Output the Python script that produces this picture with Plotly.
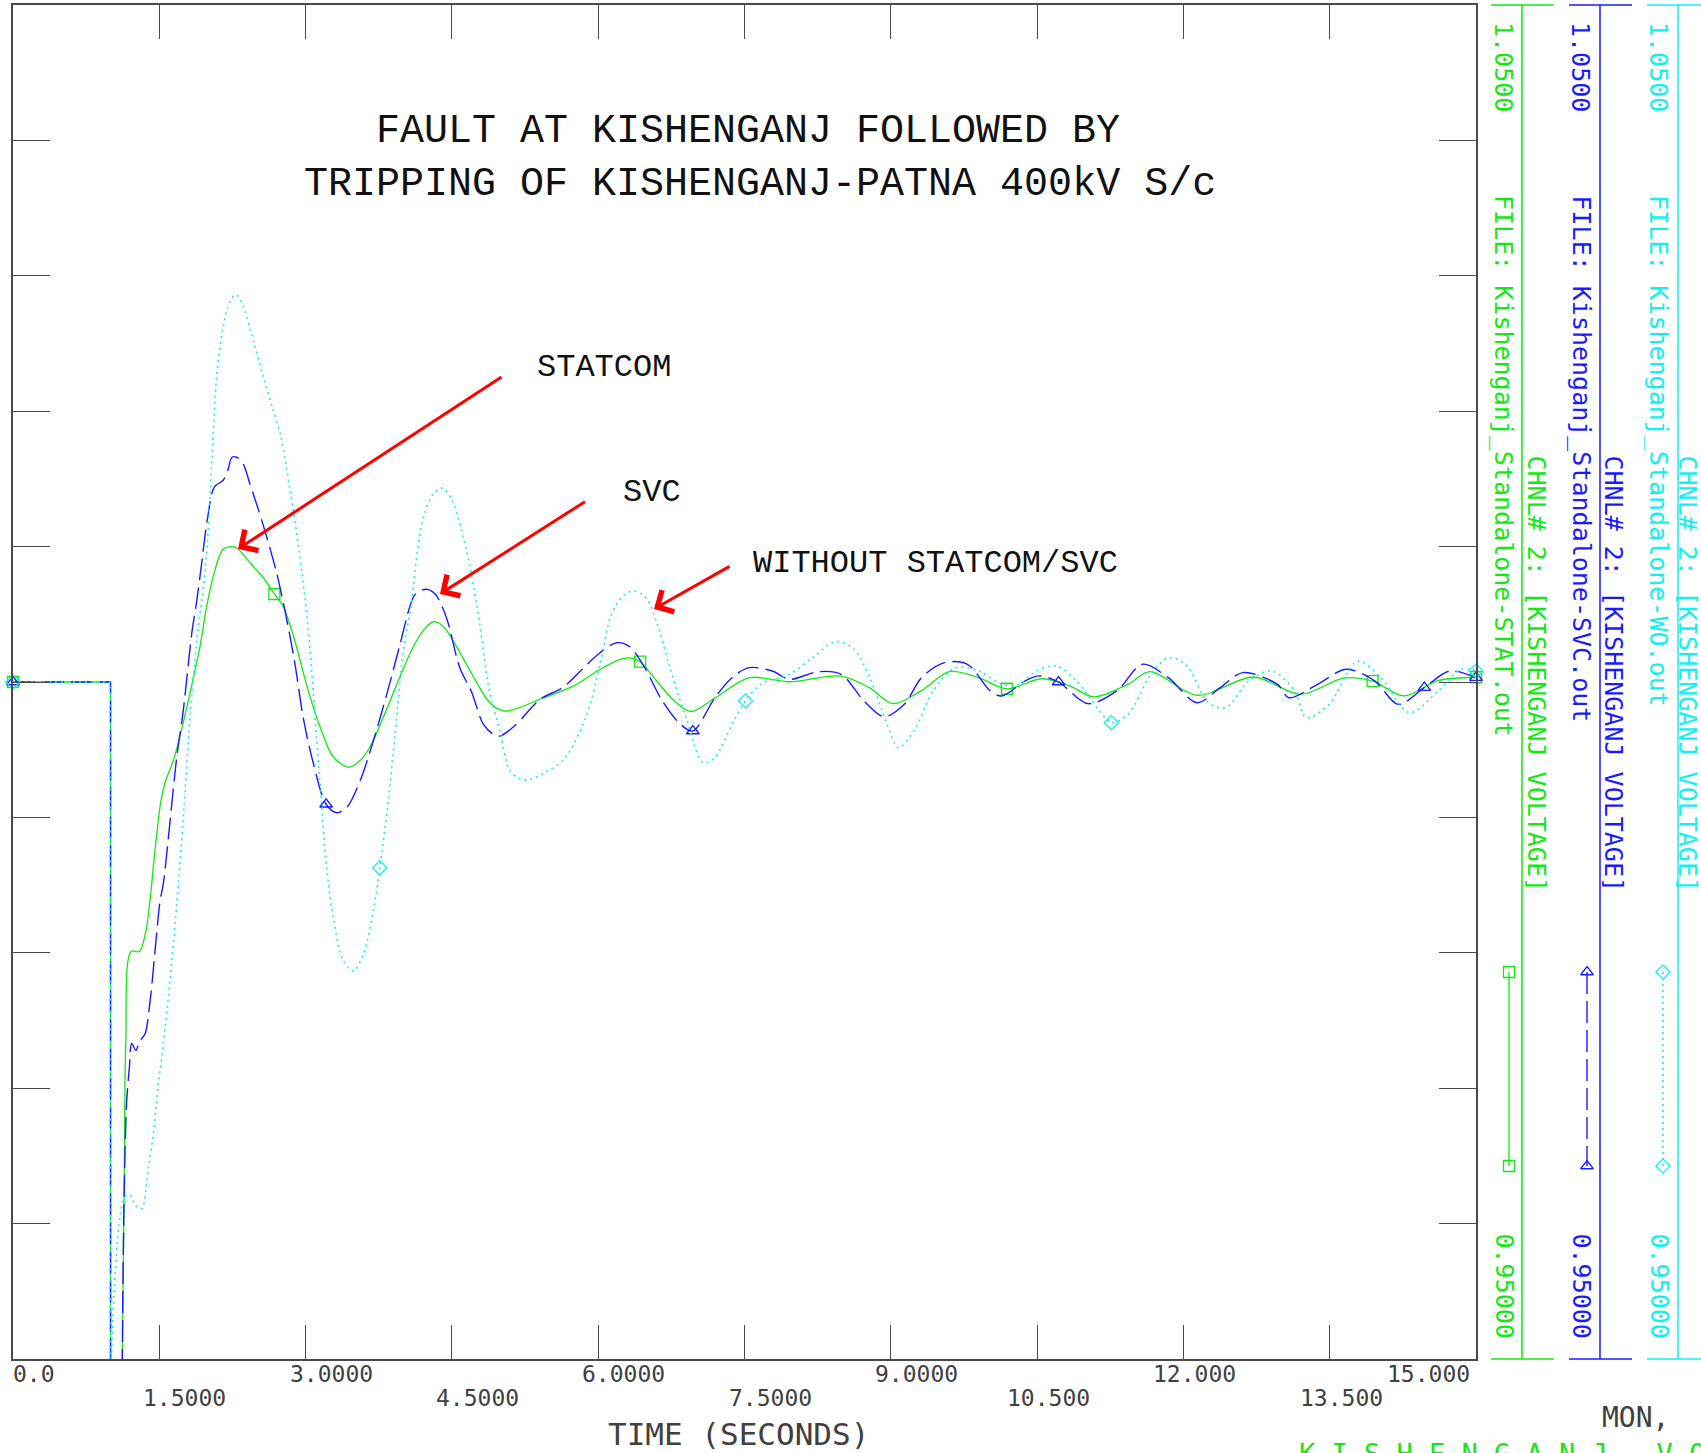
import plotly.graph_objects as go

# ---------------- Kishenganj 400 kV bus voltage (pu) after the fault ----------------
# pre-fault and fault-on portion, identical for the three cases
t_fault = [0.0, 1.0, 1.0]
v_fault = [1.0, 1.0, 0.60]

# recovery after fault clearing -- with STATCOM
t_stat = [1.12, 1.121, 1.141, 1.156, 1.21, 1.295, 1.36, 1.405, 1.456, 1.514, 1.56, 1.644,
          1.712, 1.815, 1.917, 1.986, 2.064, 2.153, 2.225, 2.293, 2.43, 2.567, 2.68, 2.77,
          2.887, 3.025, 3.148, 3.281, 3.438, 3.558, 3.66, 3.797, 3.968, 4.104, 4.207, 4.31,
          4.412, 4.549, 4.72, 4.891, 5.04, 5.43, 5.76, 6.02, 6.25, 6.33, 6.43, 6.60, 6.78,
          6.95, 7.20, 7.55, 7.96, 8.49, 8.78, 9.02, 9.31, 9.60, 9.90, 10.19, 10.55, 10.84,
          11.08, 11.43, 11.66, 12.14, 12.72, 13.20, 13.65, 13.94, 14.26, 14.61, 15.0]
v_stat = [0.60, 0.9495, 0.9634, 0.9732, 0.9801, 0.9801, 0.9815, 0.9839, 0.9876, 0.9911,
          0.9926, 0.9942, 0.9960, 0.9992, 1.0026, 1.0056, 1.0081, 1.0098, 1.0100, 1.0099,
          1.0088, 1.0077, 1.0065, 1.0056, 1.0031, 0.9994, 0.9967, 0.9945, 0.9937, 0.9942,
          0.9952, 0.9974, 1.0004, 1.0026, 1.0038, 1.00445, 1.0041, 1.0026, 1.0004, 0.99845,
          0.99785, 0.9988, 0.99975, 1.00094, 1.00172, 1.00178, 1.0015, 1.00007, 0.9986,
          0.99782, 0.99884, 1.00032, 1.00002, 1.00044, 0.99958, 0.9984, 0.99934, 1.00076,
          1.00032, 0.9995, 1.00024, 0.9997, 0.9989, 0.99983, 1.00076, 0.99902, 1.00037,
          0.99909, 1.0003, 1.00007, 0.99897, 1.0001, 1.00035]

# with SVC
t_svc = [1.12, 1.121, 1.149, 1.166, 1.193, 1.217, 1.26, 1.30, 1.353, 1.405, 1.456, 1.507,
         1.541, 1.61, 1.678, 1.746, 1.833, 1.884, 1.928, 1.995, 2.064, 2.155, 2.201, 2.245,
         2.293, 2.361, 2.43, 2.522, 2.614, 2.705, 2.796, 2.887, 2.98, 3.079, 3.21, 3.319,
         3.421, 3.558, 3.694, 3.832, 3.968, 4.07, 4.124, 4.238, 4.33, 4.444, 4.581, 4.70,
         4.822, 4.925, 4.993, 5.15, 5.403, 5.634, 5.818, 6.00, 6.19, 6.32, 6.47, 6.65, 6.843,
         6.97, 7.196, 7.372, 7.549, 7.784, 7.961, 8.255, 8.491, 8.725, 8.933, 9.138, 9.315,
         9.55, 9.785, 10.021, 10.138, 10.374, 10.52, 10.72, 11.022, 11.316, 11.581, 11.845,
         12.14, 12.376, 12.611, 12.964, 13.082, 13.376, 13.67, 13.965, 14.20, 14.47, 14.729,
         15.0]
v_svc = [0.60, 0.9504, 0.9654, 0.9691, 0.9715, 0.9733, 0.9728, 0.9735, 0.9740, 0.9764,
         0.9801, 0.9838, 0.9851, 0.9897, 0.9944, 0.9979, 1.0036, 1.0060, 1.0084, 1.0121,
         1.0144, 1.0149, 1.0156, 1.0166, 1.0166, 1.0161, 1.0146, 1.0126, 1.0104, 1.0080,
         1.0050, 1.0015, 0.9972, 0.9940, 0.99097, 0.99035, 0.99072, 0.99269, 0.99564,
         0.99909, 1.00278, 1.0056, 1.00648, 1.00685, 1.00648, 1.00475, 1.00106, 0.9993,
         0.99688, 0.99614, 0.99601, 0.9968, 0.99872, 0.99958, 1.00081, 1.00205, 1.0029,
         1.00262, 1.00115, 0.9987, 0.99688, 0.99638, 0.99884, 1.00032, 1.00106, 1.00081,
         1.0002, 1.00076, 1.00057, 0.9986, 0.99744, 0.99835, 1.00032, 1.00143, 1.00131,
         0.99934, 0.99897, 1.00007, 1.00045, 1.0000, 0.9984, 0.99934, 1.00131, 1.00032,
         0.99847, 0.99958, 1.00069, 0.99983, 0.99884, 0.99983, 1.00094, 1.00007, 0.99835,
         0.99958, 1.00081, 1.00032]

# without STATCOM / SVC
t_wo = [1.14, 1.141, 1.20, 1.26, 1.32, 1.387, 1.439, 1.49, 1.541, 1.61, 1.678, 1.746, 1.815,
        1.884, 1.973, 2.041, 2.087, 2.155, 2.224, 2.284, 2.362, 2.476, 2.567, 2.659, 2.75,
        2.842, 2.933, 3.025, 3.148, 3.216, 3.284, 3.387, 3.49, 3.592, 3.694, 3.76, 3.848,
        3.917, 4.002, 4.078, 4.192, 4.306, 4.399, 4.49, 4.627, 4.765, 4.88, 4.993, 5.10,
        5.26, 5.45, 5.65, 5.875, 6.02, 6.136, 6.254, 6.371, 6.489, 6.607, 6.725, 6.90, 7.078,
        7.196, 7.372, 7.51, 7.666, 7.961, 8.197, 8.432, 8.608, 8.785, 8.961, 9.079, 9.255,
        9.433, 9.668, 9.904, 10.138, 10.314, 10.492, 10.698, 10.904, 11.139, 11.26, 11.432,
        11.668, 11.845, 12.022, 12.258, 12.434, 12.67, 12.905, 13.141, 13.258, 13.493,
        13.789, 14.024, 14.318, 14.611, 14.847, 15.0]
v_wo = [0.60, 0.9619, 0.9621, 0.9613, 0.9611, 0.9641, 0.9666, 0.9703, 0.9733, 0.9780, 0.9835,
        0.9900, 0.9974, 1.0030, 1.0084, 1.0166, 1.0225, 1.0262, 1.0281, 1.0286, 1.0277,
        1.0249, 1.0225, 1.0203, 1.0180, 1.0141, 1.0097, 1.0040, 0.99245, 0.98628, 0.98259,
        0.97939, 0.97865, 0.97989, 0.98308, 0.98628, 0.99121, 0.99614, 1.00229, 1.0055,
        1.01165, 1.01386, 1.01431, 1.01361, 1.01041, 1.00524, 0.9995, 0.99638, 0.9934,
        0.99275, 0.9933, 0.9943, 0.99743, 1.0013, 1.0050, 1.00635, 1.00672, 1.00623, 1.00426,
        1.00131, 0.99736, 0.99404, 0.99441, 0.99688, 0.9986, 0.99983, 1.00057, 1.00179,
        1.00298, 1.00253, 1.00032, 0.99688, 0.99515, 0.99662, 0.99934, 1.00106, 1.00081,
        0.99983, 0.99983, 1.00081, 1.00118, 1.00007, 0.99786, 0.99699, 0.99761, 1.00057,
        1.00179, 1.00131, 0.99847, 0.9981, 1.00007, 1.00081, 0.99934, 0.99736, 0.99835,
        1.00155, 1.00032, 0.99773, 0.99934, 1.00094, 1.00081]

# plot-symbol positions along each curve (time, s)
mark_t_stat = [0.0, 2.68, 6.43, 10.19, 13.94, 15.0]
mark_t_svc = [0.0, 3.21, 6.97, 10.72, 14.47, 15.0]
mark_t_wo = [0.0, 3.76, 7.51, 11.26, 15.0]

# axis ticks
x_ticks = [0.0, 1.5, 3.0, 4.5, 6.0, 7.5, 9.0, 10.5, 12.0, 13.5, 15.0]
x_tick_text = ["0.0", "1.5000", "3.0000", "4.5000", "6.0000", "7.5000",
               "9.0000", "10.500", "12.000", "13.500", "15.000"]
y_ticks = [0.96, 0.97, 0.98, 0.99, 1.00, 1.01, 1.02, 1.03, 1.04]
y_top, y_bottom = 1.05, 0.95

files = ["FILE: Kishenganj_Standalone-STAT.out",
         "FILE: Kishenganj_Standalone-SVC.out",
         "FILE: Kishenganj_Standalone-WO.out"]
channel = "CHNL# 2: [KISHENGANJ VOLTAGE]"

# ---------------- page geometry ----------------
W, H = 1701, 1453
FX0, FX1, FY0, FY1 = 13, 1476, 5, 1359       # plot frame in page pixels


def px(x):
    return x / W


def py(y):
    return 1 - y / H


GREEN = "#12e812"
BLUE = "#1a1aff"
CYAN = "#10f0f0"
INK = "#404040"
STROKE = "DejaVu Sans Mono"
SERIF = "Liberation Mono"

fig = go.Figure()


def values_at(mt, t, v):
    tt = t_fault + t
    vv = v_fault + v
    return [vv[tt.index(m)] for m in mt]


cases = [
    (t_stat, v_stat, mark_t_stat, GREEN, "solid", 1.3, "square-open"),
    (t_svc, v_svc, mark_t_svc, BLUE, "22px,7px", 1.4, "triangle-up-open"),
    (t_wo, v_wo, mark_t_wo, CYAN, "2px,4px", 1.6, "diamond-open"),
]

for t, v, mt, col, dash, lw, sym in cases:
    fig.add_trace(go.Scatter(x=t_fault, y=v_fault, mode="lines",
                             line=dict(color=col, width=lw, dash=dash), hoverinfo="skip"))
    fig.add_trace(go.Scatter(x=t, y=v, mode="lines",
                             line=dict(color=col, width=lw, dash=dash, shape="spline", smoothing=0.9),
                             hoverinfo="skip"))
    fig.add_trace(go.Scatter(x=mt, y=values_at(mt, t, v), mode="markers",
                             marker=dict(symbol=sym, size=11, color=col, line=dict(width=1.3, color=col)),
                             hoverinfo="skip", cliponaxis=False))

# legend keys at the right-hand channel strips (page-pixel overlay axes)
key_x = [1509, 1587, 1663]
key_y = [972, 1166]
for (t, v, mt, col, dash, lw, sym), kx in zip(cases, key_x):
    fig.add_trace(go.Scatter(x=[kx, kx], y=key_y, mode="lines+markers", xaxis="x2", yaxis="y2",
                             line=dict(color=col, width=lw, dash=dash),
                             marker=dict(symbol=sym, size=11, color=col, line=dict(width=1.3, color=col)),
                             hoverinfo="skip"))

axis_common = dict(showgrid=False, zeroline=False, showline=True, mirror="ticks",
                   linecolor="#4a4a4a", linewidth=1.5, ticks="inside", tickcolor="#4a4a4a",
                   tickwidth=1.2, showticklabels=False, fixedrange=True)

fig.update_layout(
    width=W, height=H, autosize=False,
    margin=dict(l=0, r=0, t=0, b=0),
    paper_bgcolor="white", plot_bgcolor="rgba(0,0,0,0)",
    showlegend=False,
    xaxis=dict(domain=[px(FX0), px(FX1)], range=[x_ticks[0], x_ticks[-1]],
               tickvals=x_ticks[1:-1], ticklen=34, **axis_common),
    yaxis=dict(domain=[py(FY1), py(FY0)], range=[y_bottom, y_top],
               tickvals=y_ticks, ticklen=37, **axis_common),
    xaxis2=dict(domain=[0, 1], range=[0, W], visible=False, anchor="y2", fixedrange=True),
    yaxis2=dict(domain=[0, 1], range=[H, 0], visible=False, anchor="x2", fixedrange=True),
)


def text(x, y, s, size, color=INK, family=STROKE, angle=0, xa="center", ya="middle"):
    fig.add_annotation(x=px(x), y=py(y), xref="paper", yref="paper", text=s, showarrow=False,
                       font=dict(family=family, size=size, color=color), textangle=angle,
                       xanchor=xa, yanchor=ya)


# x tick labels, staggered in two rows, decimal point under the tick
row_y = [1374, 1398]
shift = {"0.0": -2, "15.000": -91}
for i, (val, lab) in enumerate(zip(x_ticks, x_tick_text)):
    sh = shift.get(lab, -18 if len(lab.split(".")[0]) == 1 else -32)
    fig.add_annotation(x=val, y=py(row_y[i % 2]), xref="x", yref="paper", text=lab,
                       showarrow=False, xanchor="left", yanchor="middle", xshift=sh,
                       font=dict(family=STROKE, size=23, color=INK))

text(738, 1434, "TIME (SECONDS)", 31)
text(1600, 1417, "MON,", 28, xa="left")
text(1297, 1453, "K I S H E N G A N J   V O L T A G E", 27, color=GREEN, xa="left")

# title
text(748, 131, "FAULT AT KISHENGANJ FOLLOWED BY", 40, color="#111", family=SERIF)
text(760, 184, "TRIPPING OF KISHENGANJ-PATNA 400kV S/c", 40, color="#111", family=SERIF)

# case labels with pointers
text(535, 367, "STATCOM", 32, color="#111", family=SERIF, xa="left")
text(621, 492, "SVC", 32, color="#111", family=SERIF, xa="left")
text(751, 563, "WITHOUT STATCOM/SVC", 32, color="#111", family=SERIF, xa="left")

pointers = [((2.307, 1.00982), (5.024, 1.0226)),
            ((4.378, 1.0065), (5.88, 1.01339)),
            ((6.572, 1.00539), (7.362, 1.0086))]
for (hx, hy), (tx, ty) in pointers:
    fig.add_annotation(x=hx, y=hy, ax=tx, ay=ty, xref="x", yref="y", axref="x", ayref="y",
                       text="", showarrow=True, arrowhead=4, arrowsize=1.6, arrowwidth=3,
                       arrowcolor="#ff0000", standoff=0)

# channel strips on the right
strips = [(1522, 1504, 1536, GREEN), (1600, 1581, 1613, BLUE), (1678, 1659, 1687, CYAN)]
for (lx, tx1, tx2, col), fname in zip(strips, files):
    for yy in (FY0, FY1):
        fig.add_shape(type="line", xref="paper", yref="paper", x0=px(lx - 31), x1=px(lx + 32),
                      y0=py(yy), y1=py(yy), line=dict(color=col, width=1.5))
    fig.add_shape(type="line", xref="paper", yref="paper", x0=px(lx), x1=px(lx),
                  y0=py(FY0), y1=py(FY1), line=dict(color=col, width=1.5))
    text(tx1, 20, "1.0500", 25, color=col, angle=90, ya="top")
    text(tx1, 193, fname, 25, color=col, angle=90, ya="top")
    text(tx2, 453, channel, 25, color=col, angle=90, ya="top")
    text(tx1, 1340, "0.95000", 25, color=col, angle=90, ya="bottom")

fig.write_html("out.html")
